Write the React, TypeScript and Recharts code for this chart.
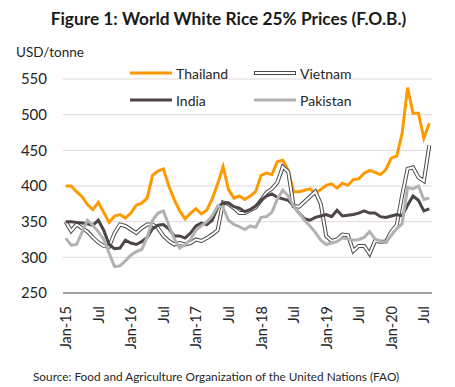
import React from 'react';
import { LineChart, Line, XAxis, YAxis, CartesianGrid } from 'recharts';

const months = [
  'Jan-15','Feb-15','Mar-15','Apr-15','May-15','Jun-15','Jul-15','Aug-15','Sep-15','Oct-15','Nov-15','Dec-15',
  'Jan-16','Feb-16','Mar-16','Apr-16','May-16','Jun-16','Jul-16','Aug-16','Sep-16','Oct-16','Nov-16','Dec-16',
  'Jan-17','Feb-17','Mar-17','Apr-17','May-17','Jun-17','Jul-17','Aug-17','Sep-17','Oct-17','Nov-17','Dec-17',
  'Jan-18','Feb-18','Mar-18','Apr-18','May-18','Jun-18','Jul-18','Aug-18','Sep-18','Oct-18','Nov-18','Dec-18',
  'Jan-19','Feb-19','Mar-19','Apr-19','May-19','Jun-19','Jul-19','Aug-19','Sep-19','Oct-19','Nov-19','Dec-19',
  'Jan-20','Feb-20','Mar-20','Apr-20','May-20','Jun-20','Jul-20','Aug-20',
];

const thailand = [
  400, 400, 392, 385, 374, 367, 377, 363, 349, 358, 360, 355, 362, 373,
  376, 383, 415, 421, 424, 400, 381, 365, 354, 362, 368, 361, 366, 382,
  403, 427, 395, 383, 386, 381, 386, 392, 415, 418, 416, 434, 436, 422,
  392, 392, 394, 396, 390, 395, 401, 403, 397, 404, 401, 409, 410, 418,
  422, 419, 416, 423, 439, 442, 474, 538, 502, 502, 467, 488,
];

const vietnam = [
  350, 337, 346, 341, 336, 328, 321, 316, 315, 334, 346, 344, 339, 334,
  341, 346, 346, 341, 330, 323, 318, 320, 318, 320, 325, 323, 327, 332,
  338, 377, 375, 369, 362, 362, 366, 370, 380, 391, 396, 405, 427, 420,
  372, 371, 378, 385, 392, 375, 330, 323, 325, 332, 331, 309, 316, 316,
  305, 323, 322, 322, 336, 345, 387, 424, 426, 412, 407, 457,
];

const india = [
  350, 350, 349, 348, 347, 345, 352, 338, 318, 312, 313, 324, 320, 318,
  322, 328, 340, 345, 346, 340, 330, 330, 327, 334, 344, 348, 346, 352,
  370, 376, 376, 371, 369, 364, 367, 372, 380, 386, 389, 384, 382, 380,
  372, 362, 354, 352, 356, 358, 360, 357, 366, 358, 359, 360, 362, 365,
  362, 362, 357, 356, 358, 360, 358, 373, 386, 380, 365, 368,
];

const pakistan = [
  327, 317, 318, 335, 352, 345, 336, 325, 306, 287, 288, 295, 303, 308,
  311, 328, 352, 362, 365, 345, 326, 313, 318, 325, 338, 344, 350, 358,
  372, 370, 352, 346, 343, 339, 344, 342, 356, 357, 363, 382, 394, 386,
  372, 362, 352, 344, 335, 324, 318, 320, 322, 327, 326, 324, 325, 328,
  336, 326, 322, 321, 331, 340, 347, 398, 396, 400, 381, 383,
];

const yTicks = [250, 300, 350, 400, 450, 500, 550];

const data = months.map((m, i) => ({
  month: m,
  thailand: thailand[i],
  vietnam: vietnam[i],
  india: india[i],
  pakistan: pakistan[i],
}));

const FONT = 'Lato, "Open Sans", sans-serif';
const TEXT = '#262626';
const ORANGE = '#FF9900';
const DARK = '#4D4446';
const GRAY = '#B2B2B2';
const VIET = '#4a4a4a';

const tickLabel = (v: string) => (v.startsWith('Jan') ? v : v.startsWith('Jul') ? 'Jul' : '');

const XTick = (props: any) => {
  const { x, y, payload } = props;
  const ty = y + 5;
  return (
    <text
      x={x}
      y={ty}
      transform={`rotate(-90 ${x} ${ty})`}
      textAnchor="end"
      dominantBaseline="central"
      fontFamily={FONT}
      fontSize={14.5}
      fill={TEXT}
    >
      {tickLabel(payload.value)}
    </text>
  );
};

const LegendItem = ({ left, top, label, kind }: { left: number; top: number; label: string; kind: string }) => (
  <div style={{ position: 'absolute', left, top, height: 16, display: 'flex', alignItems: 'center' }}>
    <svg width={44} height={16} style={{ display: 'block' }}>
      {kind === 'double' ? (
        <>
          <line x1={1} y1={8} x2={43} y2={8} stroke={VIET} strokeWidth={4} />
          <line x1={2} y1={8} x2={42} y2={8} stroke="#fff" strokeWidth={2} />
        </>
      ) : (
        <line x1={1} y1={8} x2={43} y2={8} stroke={kind} strokeWidth={3} />
      )}
    </svg>
    <span style={{ marginLeft: 3, fontFamily: FONT, fontSize: 14, color: TEXT, whiteSpace: 'nowrap' }}>{label}</span>
  </div>
);

export default function App() {
  return (
    <div style={{ position: 'absolute', left: 0, top: 0, width: 455, height: 387, background: '#fff', overflow: 'hidden' }}>
      <div
        style={{
          position: 'absolute', left: 0, top: 8, width: 457, textAlign: 'center',
          fontFamily: FONT, fontWeight: 700, fontSize: 17.3, color: '#1a1a1a', whiteSpace: 'nowrap',
        }}
      >
        Figure 1: World White Rice 25% Prices (F.O.B.)
      </div>
      <div style={{ position: 'absolute', left: 16, top: 44, fontFamily: FONT, fontSize: 13.5, color: TEXT }}>USD/tonne</div>
      <LineChart
        width={455}
        height={387}
        data={data}
        margin={{ top: 79, right: 23, bottom: 44, left: 23 }}
        style={{ position: 'absolute', left: 0, top: 0 }}
      >
        <CartesianGrid vertical={false} stroke="#E4D6DC" strokeWidth={1} />
        <XAxis
          dataKey="month"
          scale="band"
          interval={5}
          tickLine={false}
          axisLine={{ stroke: '#595959', strokeWidth: 1 }}
          tick={<XTick />}
          height={50}
        />
        <YAxis
          domain={[250, 550]}
          ticks={yTicks}
          axisLine={false}
          tickLine={false}
          tickMargin={10}
          width={40}
          tick={{ fontFamily: FONT, fontSize: 15, fill: TEXT }}
        />
        <Line type="linear" dataKey="thailand" stroke={ORANGE} strokeWidth={3} dot={false} isAnimationActive={false} />
        <Line type="linear" dataKey="vietnam" stroke={VIET} strokeWidth={4} dot={false} isAnimationActive={false} />
        <Line type="linear" dataKey="vietnam" stroke="#ffffff" strokeWidth={2} dot={false} isAnimationActive={false} />
        <Line type="linear" dataKey="india" stroke={DARK} strokeWidth={3} dot={false} isAnimationActive={false} />
        <Line type="linear" dataKey="pakistan" stroke={GRAY} strokeWidth={3} dot={false} isAnimationActive={false} />
      </LineChart>
      <LegendItem left={129} top={65} label="Thailand" kind={ORANGE} />
      <LegendItem left={253} top={65} label="Vietnam" kind="double" />
      <LegendItem left={129} top={92} label="India" kind={DARK} />
      <LegendItem left={253} top={92} label="Pakistan" kind={GRAY} />
      <div
        style={{
          position: 'absolute', left: 33, top: 369,
          fontFamily: FONT, fontSize: 11.8, color: TEXT, whiteSpace: 'nowrap',
        }}
      >
        Source: Food and Agriculture Organization of the United Nations (FAO)
      </div>
    </div>
  );
}
